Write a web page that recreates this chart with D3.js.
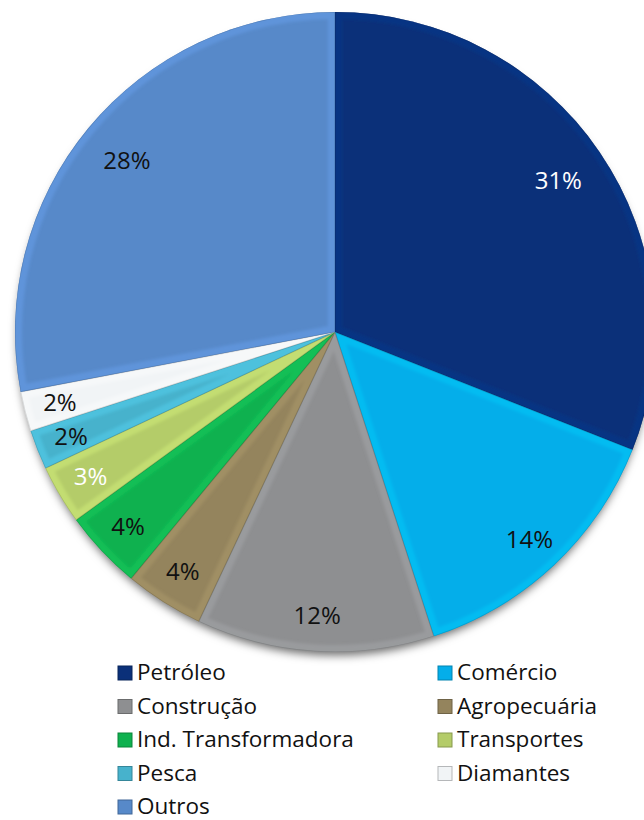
<!DOCTYPE html>
<html>
<head>
<meta charset="utf-8">
<script src="https://cdn.jsdelivr.net/npm/d3@7"></script>
<style>
  body { margin: 0; background: #ffffff; }
  text { font-family: "Open Sans", sans-serif; }
</style>
</head>
<body>
<div id="vis"></div>
<script>
// setting constants
const FRAME_WIDTH = 644;
const FRAME_HEIGHT = 820;
const CENTER = {x: 335, y: 332};
const RADIUS = 320;

// data
const sectors = ["Petróleo", "Comércio", "Construção", "Agropecuária",
  "Ind. Transformadora", "Transportes", "Pesca", "Diamantes", "Outros"];
const shares = [31, 14, 12, 4, 4, 3, 2, 2, 28];
const colors = ["#0B3079", "#04AEEA", "#8E8F91", "#94845D", "#0FB14F",
  "#B4CC69", "#47B2CC", "#F1F4F6", "#5789C9"];
const labelColors = ["#ffffff", "#111111", "#111111", "#111111", "#111111",
  "#ffffff", "#111111", "#111111", "#111111"];

const data = sectors.map((s, i) => ({name: s, value: shares[i], i: i}));

// adding frame
const FRAME = d3.select("#vis")
  .append("svg")
    .attr("width", FRAME_WIDTH)
    .attr("height", FRAME_HEIGHT);

const defs = FRAME.append("defs");

// shadow under the pie
const shadow = defs.append("filter")
    .attr("id", "shadow")
    .attr("x", "-10%").attr("y", "-10%")
    .attr("width", "120%").attr("height", "125%");
shadow.append("feDropShadow")
    .attr("dx", 0).attr("dy", 6)
    .attr("stdDeviation", 5)
    .attr("flood-color", "#000")
    .attr("flood-opacity", 0.6);

// soft edge for the bevel
defs.append("filter")
    .attr("id", "soft")
  .append("feGaussianBlur")
    .attr("stdDeviation", 1.6);

// pie layout, clockwise from 12 o'clock
const PIE = d3.pie()
  .value(d => d.value)
  .sort(null);

const ARC = d3.arc()
  .innerRadius(0)
  .outerRadius(RADIUS);

const arcs = PIE(data);

const G = FRAME.append("g")
    .attr("transform", "translate(" + CENTER.x + "," + CENTER.y + ")");

// clip paths for the bevel edge
defs.selectAll("clipPath")
  .data(arcs)
  .enter()
  .append("clipPath")
    .attr("id", d => "clip" + d.data.i)
  .append("path")
    .attr("d", ARC);

// shadow behind everything
G.append("circle")
    .attr("r", RADIUS - 3)
    .attr("fill", "#555")
    .attr("filter", "url(#shadow)");

// slices
G.selectAll(".slice")
  .data(arcs)
  .enter()
  .append("path")
    .attr("class", "slice")
    .attr("d", ARC)
    .attr("fill", d => colors[d.data.i]);

// light bevel on inside edges
G.selectAll(".bevel")
  .data(arcs)
  .enter()
  .append("g")
    .attr("clip-path", d => "url(#clip" + d.data.i + ")")
  .append("path")
    .attr("class", "bevel")
    .attr("d", ARC)
    .attr("fill", "none")
    .attr("stroke", d => d3.color(colors[d.data.i]).brighter(0.6))
    .attr("stroke-opacity", 0.35)
    .attr("stroke-width", 14)
    .attr("stroke-linejoin", "round")
    .attr("filter", "url(#soft)");

// darker seams between slices
G.selectAll(".seam")
  .data(arcs)
  .enter()
  .append("path")
    .attr("class", "seam")
    .attr("d", ARC)
    .attr("fill", "none")
    .attr("stroke", d => d3.color(colors[d.data.i]).darker(0.9))
    .attr("stroke-opacity", 0.45)
    .attr("stroke-width", 1.2)
    .attr("clip-path", d => "url(#clip" + d.data.i + ")");

// percentage labels
const LABEL_ARC_BIG = d3.arc().innerRadius(270).outerRadius(270);
const LABEL_ARC_SMALL = d3.arc().innerRadius(284).outerRadius(284);

G.selectAll(".label")
  .data(arcs)
  .enter()
  .append("text")
    .attr("class", "label")
    .attr("transform", d => {
      const c = (d.data.value > 20 ? LABEL_ARC_BIG : LABEL_ARC_SMALL).centroid(d);
      return "translate(" + c[0] + "," + c[1] + ")";
    })
    .attr("text-anchor", "middle")
    .attr("dy", "0.36em")
    .attr("font-size", "24px")
    .attr("fill", d => labelColors[d.data.i])
    .text(d => d.data.value + "%");

// legend, two columns
const LEGEND_X = [118, 438];
const LEGEND_Y0 = 680;
const LEGEND_STEP = 33.5;

const legend = FRAME.selectAll(".legend")
  .data(data)
  .enter()
  .append("g")
    .attr("class", "legend")
    .attr("transform", d => "translate(" + LEGEND_X[d.i % 2] + "," +
      (LEGEND_Y0 + Math.floor(d.i / 2) * LEGEND_STEP) + ")");

legend.append("rect")
    .attr("x", 0)
    .attr("y", -14)
    .attr("width", 14)
    .attr("height", 14)
    .attr("fill", d => colors[d.i])
    .attr("stroke", d => d3.color(colors[d.i]).darker(0.8))
    .attr("stroke-width", 1);

legend.append("text")
    .attr("x", 19)
    .attr("y", 0)
    .attr("font-size", "22.5px")
    .attr("fill", "#111")
    .text(d => d.name);
</script>
</body>
</html>
